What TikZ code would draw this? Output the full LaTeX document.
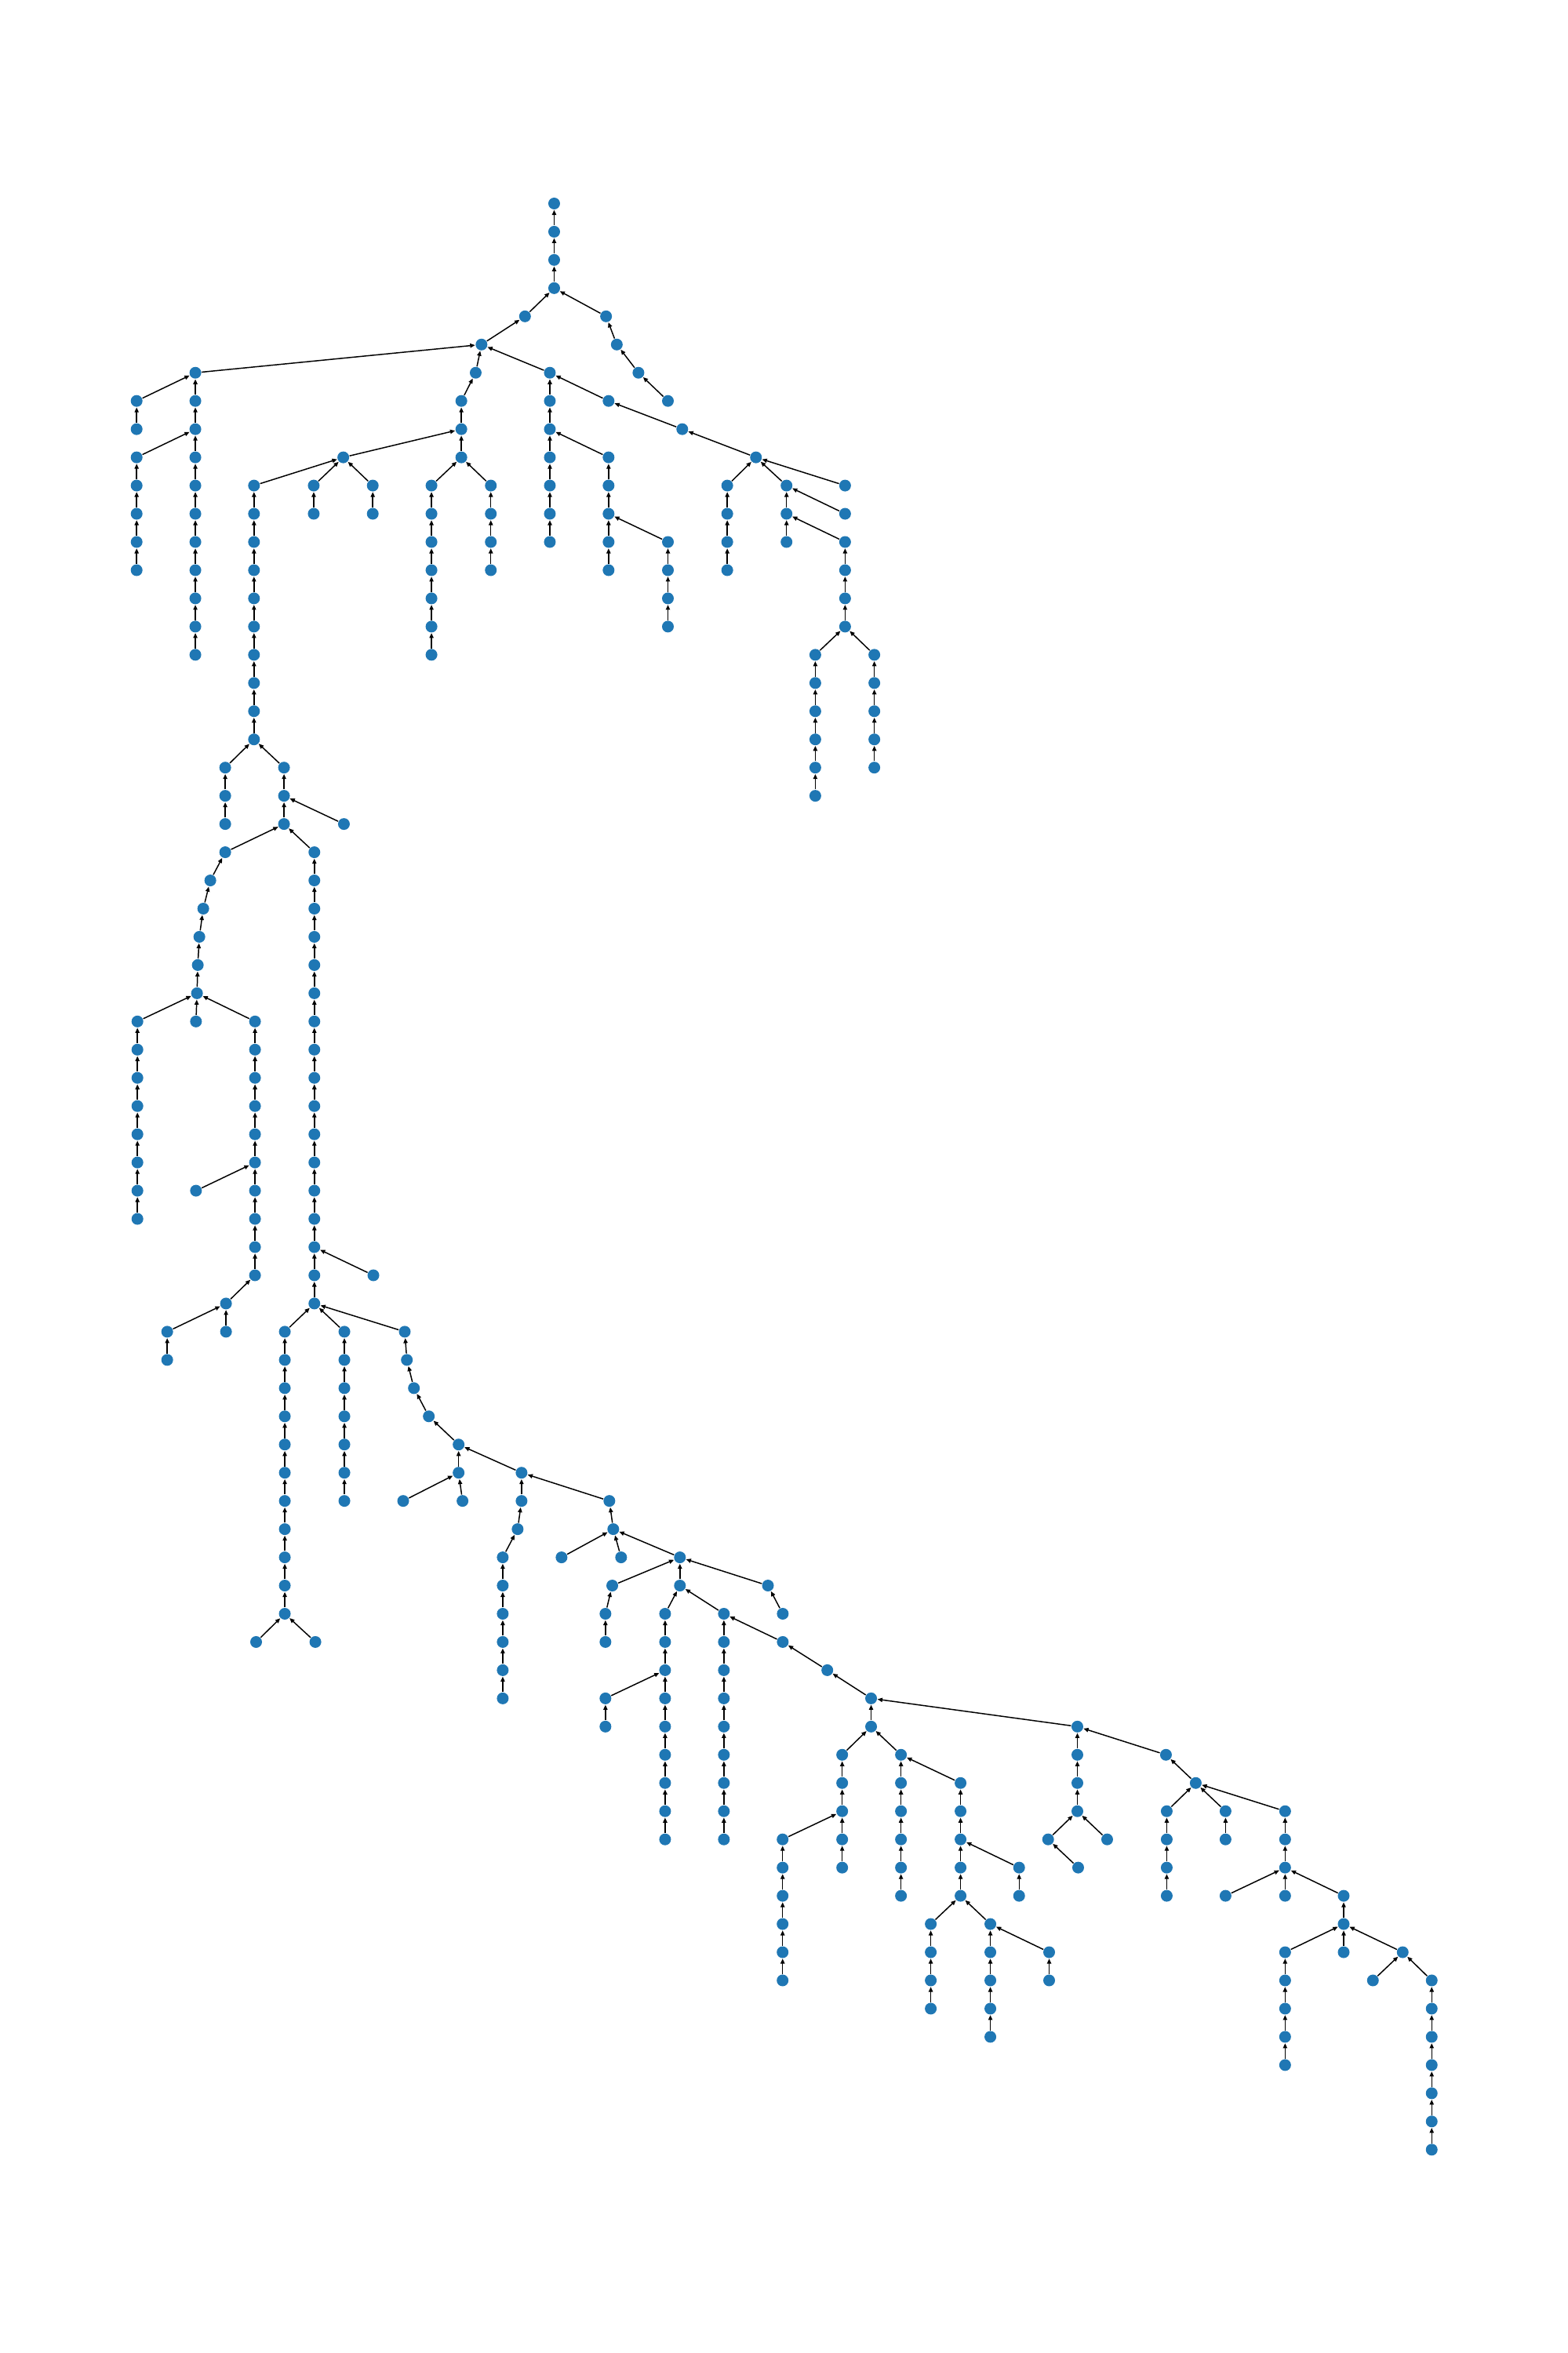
\documentclass[tikz,border=0pt]{standalone}
\usepackage{tikz}
\usetikzlibrary{arrows.meta}
\definecolor{dotblue}{HTML}{1F77B4}

\begin{document}
\begin{tikzpicture}[x=0.01cm, y=-0.3596cm,
    vtx/.style={circle, fill=dotblue, inner sep=0pt, minimum size=0.15cm},
    link/.style={-{Triangle[length=1.8pt,width=1.5pt]}, line width=0.42pt}]
    \useasboundingbox (0,-7.216) rectangle (2000,76.21);
    % vertical runs: name/x/first level/last level, each one points up
    \foreach \nm/\xx/\a/\b in {
        t/706.9/0/3, u/669.7/4/4, ra/773.1/4/4, rb/786.8/5/5, rc/814.4/6/6, rd/852/7/7,
        b/614.2/5/5, c/249.2/6/16, d/174.3/7/8, e/174.3/9/13, f/606.8/6/6, g/588.5/7/9,
        h/437.9/9/9, k/324/10/19, m/400.2/10/11, n/475.5/10/11, p/550.4/10/16, q/626.1/10/13,
        s/701.4/6/12, w/776.3/7/7, x/776.3/9/13, y/852/12/15, za/870.3/8/8, zb/964.3/9/9,
        aa/927.7/10/13, ab/1003.3/10/12, ac/1078/10/10, ad/1078/11/11, ae/1078/12/15,
        af/1040/16/21, ag/1115.3/16/20,
        ba/287.3/20/22, bb/362.3/20/22, bc/438.7/22/22, bd/287.3/23/23, be/268.3/24/24,
        bf/259.3/25/25, bg/254.3/26/26, bh/252.3/27/27, bi/251.3/28/28, bj/175.3/29/36,
        bk/250/29/29, bl/325.3/29/38, bm/250/35/35, bn/288.3/39/39, bo/213.3/40/41,
        bp/288.3/40/40, bq/401/23/39, br/476.3/38/38, bs/363.3/40/50, bt/326.7/51/51,
        bu/402.3/51/51, bv/439.3/40/46, bw/516.3/40/40, bx/519/41/41, by/528/42/42,
        bz/547/43/43, ca/585/44/45, cb/514.3/46/46, cc/590/46/46, cd/665.3/45/46,
        ce/660.3/47/47, cf/641.3/48/53, cg/777.3/46/46, ch/782.3/47/47, ci/716.3/48/48,
        cj/792.3/48/48, ck/867.3/48/49, cl/781/49/49, cm/772.3/50/51, cn/979.6/49/49,
        co/998.5/50/50, cp/848.4/50/58, cq/772.3/53/54, cr/923.4/50/58, cs/998.5/51/51,
        ct/1055.3/52/52, cu/1111.2/53/54, cv/1074.3/55/59, cw/998.3/58/63, cx/1149.3/55/60,
        cy/1225.3/56/60, cz/1300/59/60, da/1187.3/61/64, db/1263.3/61/65, dc/1338.3/62/63,
        dd/1374.3/54/57, de/1337/58/58, df/1375.3/59/59, dg/1412.3/58/58, dh/1487.3/55/55,
        di/1525.3/56/56, dj/1488.3/57/60, dk/1563.3/57/58, dl/1639.3/57/59, dm/1563.3/60/60,
        dn/1639.3/60/60, dv/1714/60/61, dp/1639.3/62/66, dq/1714/62/62, dr/1789.3/62/62,
        ds/1751.3/63/63, dt/1826.3/63/69}{
        \foreach \l in {\a,...,\b}
            \node[vtx] (\nm\l) at (\xx,\l) {};
        \foreach \l in {\a,...,\b}{
            \ifnum\l>\a
                \pgfmathtruncatemacro\k{\l-1}
                \draw[link] (\nm\l) -- (\nm\k);
            \fi}
    }
    % links between runs: child/parent
    \foreach \ch/\pa in {
        u4/t3, ra4/t3, rb5/ra4, rc6/rb5, rd7/rc6, b5/u4, c6/b5, f6/b5, s6/b5,
        d7/c6, e9/c8, g7/f6, h9/g8, k10/h9, m10/h9, n10/h9, p10/g9, q10/g9,
        w7/s6, x9/s8, y12/x11, za8/w7, zb9/za8, aa10/zb9, ab10/zb9, ac10/zb9,
        ad11/ab10, ae12/ab11, af16/ae15, ag16/ae15,
        ba20/k19, bb20/k19, bc22/bb21, bd23/bb22, bq23/bb22, be24/bd23, bf25/be24,
        bg26/bf25, bh27/bg26, bi28/bh27, bj29/bi28, bk29/bi28, bl29/bi28,
        bm35/bl34, bn39/bl38, bo40/bn39, bp40/bn39, br38/bq37, bs40/bq39,
        bv40/bq39, bw40/bq39, bt51/bs50, bu51/bs50, bx41/bw40, by42/bx41,
        bz43/by42, ca44/bz43, cb46/ca45, cc46/ca45, cd45/ca44, ce47/cd46,
        cf48/ce47, cg46/cd45, ch47/cg46, ci48/ch47, cj48/ch47, ck48/ch47,
        cl49/ck48, cm50/cl49, cn49/ck48, co50/cn49, cp50/ck49, cr50/ck49,
        cq53/cp52, cs51/cr50, ct52/cs51, cu53/ct52, cv55/cu54, cx55/cu54,
        cw58/cv57, cy56/cx55, cz59/cy58, da61/cy60, db61/cy60, dc62/db61,
        dd54/cu53, de58/dd57, dg58/dd57, df59/de58, dh55/dd54, di56/dh55,
        dj57/di56, dk57/di56, dl57/di56, dm60/dl59, dn60/dl59, dv60/dl59,
        dp62/dv61, dq62/dv61, dr62/dv61, ds63/dr62, dt63/dr62}
        \draw[link] (\ch) -- (\pa);
\end{tikzpicture}
\end{document}
